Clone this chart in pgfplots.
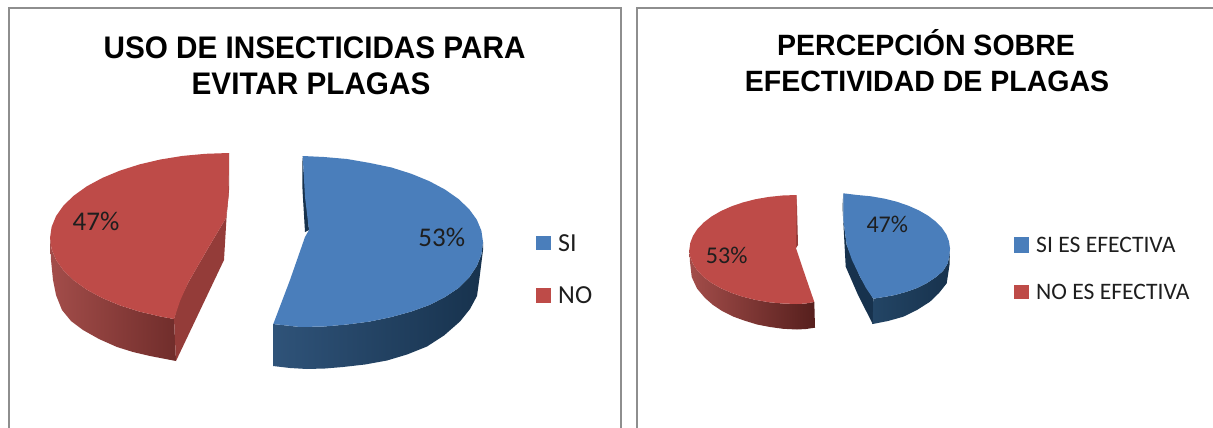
\documentclass[border=0pt]{standalone}
\usepackage{pgfplots}
\usepackage{fontspec}
\pgfplotsset{compat=1.18}
\setmainfont{Carlito}
\newfontfamily\titlefont{Liberation Sans}[BoldFont={Liberation Sans Bold}]
\definecolor{pieblue}{HTML}{4A7EBB}
\definecolor{piered}{HTML}{BE4B48}
\definecolor{cutred}{HTML}{943C39}
\definecolor{darkblue}{HTML}{17324D}
\definecolor{framegray}{HTML}{8E8E8E}
\definecolor{labeltext}{HTML}{1E1E1E}
\definecolor{HTMLa}{HTML}{A34D4A}
\definecolor{HTMLb}{HTML}{702D2B}
\definecolor{HTMLc}{HTML}{2F5379}
\definecolor{HTMLd}{HTML}{1A3653}
\definecolor{HTMLe}{HTML}{561F1D}
\definecolor{HTMLf}{HTML}{234565}
\begin{document}
\begin{tikzpicture}
\begin{axis}[
  scale only axis, width=1213bp, height=428bp, hide axis,
  xmin=0, xmax=1213, ymin=0, ymax=428, y dir=reverse,
  every axis plot/.append style={no markers, line width=0pt, draw=none},
]
\path (axis cs:0,0) -- (axis cs:1213,428);
% frames
\addplot[draw=framegray, line width=1.5pt] coordinates {(9,428)(9,8)(621,8)(621,428)};
\addplot[draw=framegray, line width=1.5pt] coordinates {(637,428)(637,8)(1213,8)};

% ---- chart 1, red slice (47%) ----
\addplot[left color=HTMLa,right color=HTMLb] coordinates {
 (50,238)(51,260)(53,280)(56,295)(62,310)(71,321)(83,330)(99,339)(117,347)(133,352)(150,356)(163,358.5)(176,361)(174,319)(160.4,316.5)(139.5,311.6)(120,305.4)(102.4,298.1)(87,289.8)(74,280.5)(63.6,270.6)(56.1,260)(51.6,249.1)
} --cycle;
\addplot[fill=cutred] coordinates {(174,319)(176,361)(224,260)(226.5,218)(229,190)(229,153)(228,197)(226,218)(207,250)(188,283)(179,301)} --cycle;
\addplot[fill=piered] coordinates {
 (229,153)(205.6,153.8)(182.6,155.9)(160.4,159.5)(139.5,164.4)(120,170.6)(102.4,177.9)(87,186.2)(74,195.5)(63.6,205.4)(56.1,216)(51.6,226.9)(50,238)(51.6,249.1)(56.1,260)(63.6,270.6)(74,280.5)(87,289.8)(102.4,298.1)(120,305.4)(139.5,311.6)(160.4,316.5)(174,319)(180,301)(188,283)(207,250)(226,218)(228.5,197)
} --cycle;

% ---- chart 1, blue slice (53%) ----
\addplot[left color=HTMLc,middle color=HTMLd,right color=darkblue] coordinates {
 (273,324)(273,366)(290,368)(307,369)(325,368.5)(343,367)(365,364.5)(387,360.5)(407,354.5)(427,346.5)(444,335.5)(460,321.5)(470,309)(477,296)(479.5,278)(483,250)(483,242)(481.4,254.5)(476.8,266)(469.1,277.5)(458.5,288)(445.1,297)(429.4,305)(411.4,311.5)(391.5,317)(370,321.5)(347,324.5)(324,326.5)(300,327)
} --cycle;
\addplot[fill=darkblue] coordinates {(302.3,156)(302.5,190)(305,232)(309,230)(306,197)} --cycle;
\addplot[fill=pieblue] coordinates {
 (302.7,156)(324,157)(347,159)(370,163)(391.5,167.5)(411.4,173.8)(429.4,181.2)(445.1,189.6)(458.5,199)(469.1,209.1)(476.8,219.7)(481.4,230.7)(483,242)(481.4,254.5)(476.8,266)(469.1,277.5)(458.5,288)(445.1,297)(429.4,305)(411.4,311.5)(391.5,317)(370,321.5)(347,324.5)(324,326.5)(300,327)(273.3,324)(290,280)(305,237)(309,230)(305,197)
} --cycle;

% ---- chart 2, red slice (53%) ----
\addplot[left color=HTMLa,right color=HTMLe] coordinates {
 (689.3,250)(690,262)(691.7,277)(697,288.5)(705,298)(713,305)(722,311)(733,316.5)(744,320.5)(757,324.5)(770,327)(783,328.8)(797,329.5)(806,329)(815,327.7)(814.3,302)(805,303.6)(796.7,304)(782.6,303.5)(768.9,302.2)(755.6,299.9)(743,296.8)(731.3,292.8)(720.8,288.2)(711.5,282.9)(703.7,277)(697.5,270.7)(693,264)(690.3,257)
} --cycle;
\addplot[fill=cutred] coordinates {(796.7,195)(798,245)(796,248)(795.5,220)} --cycle;
\addplot[fill=piered] coordinates {
 (796.7,195)(782.6,195.5)(768.9,196.9)(755.6,199.2)(743,202.4)(731.3,206.4)(720.8,211.1)(711.5,216.5)(703.7,222.5)(697.5,228.9)(693,235.8)(690.3,242.8)(689.3,250)(690.3,257)(693,264)(697.5,270.7)(703.7,277)(711.5,282.9)(720.8,288.2)(731.3,292.8)(743,296.8)(755.6,299.9)(768.9,302.2)(782.6,303.5)(796.7,304)(805,303.6)(814.3,302)(805,275)(796,248.3)(796.5,220)
} --cycle;

% ---- chart 2, blue slice (47%) ----
\addplot[fill=darkblue] coordinates {(843.3,193.3)(842.5,207)(845.7,266.7)(858,295)(872.7,324)(873.3,298.7)(860,276.7)(846.7,245)(843.3,220)} --cycle;
\addplot[left color=HTMLf,right color=darkblue] coordinates {
 (873.3,298.7)(872.7,324)(888,321)(903.3,316.7)(917,310)(930,301.7)(939,293)(946.7,283.3)(949.5,265)(950,248.5)(949.3,256)(947.7,263.5)(943,271)(936,277)(927,283)(917,288)(906.7,291.7)(895,295)(884,297)
} --cycle;
\addplot[fill=pieblue] coordinates {
 (843.3,193.3)(857.3,195)(870.9,196.3)(884.2,198.6)(896.7,201.7)(908.3,205.7)(918.7,210.3)(927.9,215.6)(935.7,221.5)(941.9,227.8)(946.4,234.5)(949,241.4)(950,248.5)(949.3,256)(947.7,263.5)(943,271)(936,277)(927,283)(917,288)(906.7,291.7)(895,295)(884,297)(873.3,298.7)(866,288)(860,276.7)(852,260)(846.7,245)(843.3,220)
} --cycle;

% legend swatches
\addplot[fill=pieblue] coordinates {(536,236)(551,236)(551,250)(536,250)} --cycle;
\addplot[fill=piered]  coordinates {(536,288)(551,288)(551,303)(536,303)} --cycle;
\addplot[fill=pieblue] coordinates {(1014.3,237.3)(1029.3,237.3)(1029.3,252.7)(1014.3,252.7)} --cycle;
\addplot[fill=piered]  coordinates {(1014.3,285)(1029.3,285)(1029.3,299.3)(1014.3,299.3)} --cycle;

% titles
\node[anchor=base,inner sep=0pt,yscale=1.05,font=\titlefont\bfseries\fontsize{29.7bp}{29.7bp}\selectfont] at (axis cs:314.5,59) {USO DE INSECTICIDAS PARA};
\node[anchor=base,inner sep=0pt,yscale=1.05,font=\titlefont\bfseries\fontsize{29.7bp}{29.7bp}\selectfont] at (axis cs:311,95) {EVITAR PLAGAS};
\node[anchor=base,inner sep=0pt,yscale=1.03,font=\titlefont\bfseries\fontsize{28.5bp}{28.5bp}\selectfont] at (axis cs:926,56) {PERCEPCIÓN SOBRE};
\node[anchor=base,inner sep=0pt,yscale=1.03,font=\titlefont\bfseries\fontsize{28.5bp}{28.5bp}\selectfont] at (axis cs:927,91.7) {EFECTIVIDAD DE PLAGAS};

% data labels
\node[text=labeltext,font=\fontsize{27bp}{27bp}\selectfont] at (axis cs:96,221) {47\%};
\node[text=labeltext,font=\fontsize{27bp}{27bp}\selectfont] at (axis cs:441.7,237) {53\%};
\node[text=labeltext,font=\fontsize{24bp}{24bp}\selectfont] at (axis cs:887.3,224) {47\%};
\node[text=labeltext,font=\fontsize{24bp}{24bp}\selectfont] at (axis cs:726.7,255) {53\%};

% legend text
\node[anchor=west,inner sep=0pt,text=labeltext,font=\fontsize{26bp}{26bp}\selectfont] at (axis cs:558,243) {SI};
\node[anchor=west,inner sep=0pt,text=labeltext,font=\fontsize{26bp}{26bp}\selectfont] at (axis cs:558,295) {NO};
\node[anchor=west,inner sep=0pt,text=labeltext,font=\fontsize{23.6bp}{23.6bp}\selectfont] at (axis cs:1036,245) {SI ES EFECTIVA};
\node[anchor=west,inner sep=0pt,text=labeltext,font=\fontsize{23.6bp}{23.6bp}\selectfont] at (axis cs:1036,292) {NO ES EFECTIVA};
\end{axis}
\end{tikzpicture}
\end{document}
